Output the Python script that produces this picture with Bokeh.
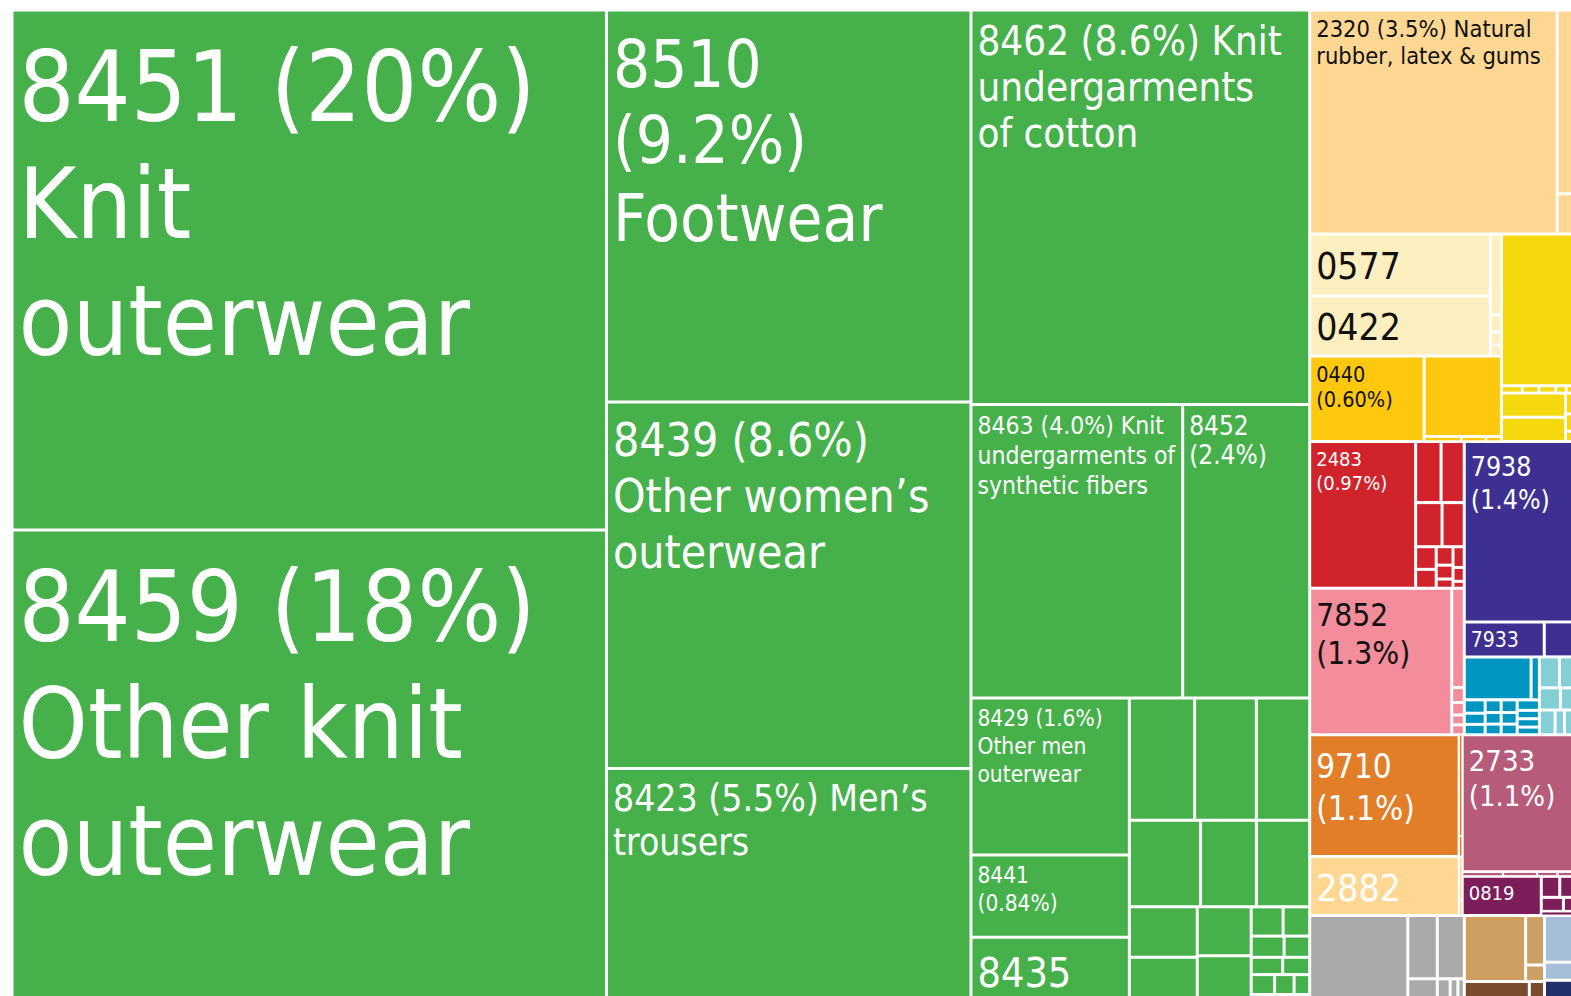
from bokeh.plotting import figure
from bokeh.models import ColumnDataSource, Range1d
from bokeh.embed import file_html
from bokeh.resources import INLINE
from bokeh.core.properties import value, field

# ---- data ----------------------------------------------------------------
# share of exports (%) of the labelled products (area estimates)
shares = {
    "8451": 19.9, "8459": 18.1, "8510": 9.2, "8439": 8.6, "8423": 5.5,
    "8462": 8.6, "8463": 4.0, "8452": 2.4, "8429": 1.6, "8441": 0.84, "8435": 0.67,
    "2320": 3.57, "0577": 0.72, "0422": 0.70, "0440": 0.63, "2483": 1.0,
    "7938": 1.28, "7933": 0.18, "7852": 1.34, "9710": 1.17, "2882": 0.57,
    "2733": 0.99, "0819": 0.20,
}

label_lines = {
    "8451": ["8451 (20%)", "Knit", "outerwear"],
    "8459": ["8459 (18%)", "Other knit", "outerwear"],
    "8510": ["8510", "(9.2%)", "Footwear"],
    "8439": ["8439 (8.6%)", "Other women\u2019s", "outerwear"],
    "8423": ["8423 (5.5%) Men\u2019s", "trousers"],
    "8462": ["8462 (8.6%) Knit", "undergarments", "of cotton"],
    "8463": ["8463 (4.0%) Knit", "undergarments of", "synthetic fibers"],
    "8452": ["8452", "(2.4%)"],
    "8429": ["8429 (1.6%)", "Other men", "outerwear"],
    "8441": ["8441", "(0.84%)"],
    "8435": ["8435"],
    "2320": ["2320 (3.5%) Natural", "rubber, latex & gums"],
    "0577": ["0577"],
    "0422": ["0422"],
    "0440": ["0440", "(0.60%)"],
    "2483": ["2483", "(0.97%)"],
    "7938": ["7938", "(1.4%)"],
    "7933": ["7933"],
    "7852": ["7852", "(1.3%)"],
    "9710": ["9710", "(1.1%)"],
    "2733": ["2733", "(1.1%)"],
    "2882": ["2882"],
    "0819": ["0819"],
}

# label style: font size (px) and line step (px)
label_size = {
    "8451": 98, "8459": 98, "8510": 65, "8439": 46, "8423": 37, "8462": 40,
    "8463": 24.5, "8452": 26, "8429": 22.5, "8441": 22.5, "8435": 41, "2320": 23.5,
    "0577": 37, "0422": 37, "0440": 21.5, "2483": 20, "7938": 26.5, "7933": 21,
    "7852": 31.5, "9710": 33, "2733": 29, "2882": 37, "0819": 20,
}
label_step = {
    "8451": 117, "8459": 117, "8510": 78, "8439": 56, "8423": 44, "8462": 46,
    "8463": 30, "8452": 30, "8429": 28, "8441": 28, "8435": 50, "2320": 27,
    "0577": 45, "0422": 45, "0440": 25.5, "2483": 24, "7938": 34, "7933": 24,
    "7852": 38, "9710": 43, "2733": 36, "2882": 45, "0819": 24,
}

dark_text = ["2320", "0577", "0422", "0440", "7852"]

sector_colors = {
    "tex": "#46B14B", "veg": "#FED793", "cream": "#FEEFC0", "gold": "#FDC80E",
    "yellow": "#F5D80E", "red": "#D1232B", "pink": "#F38C9B", "purple": "#3D3091",
    "teal": "#0096C1", "lteal": "#84CFD6", "orange": "#E27E27", "mauve": "#B65C7A",
    "plum": "#7B1E5A", "gray": "#A9AAA9", "tan": "#CD9F61", "brown": "#7A4B2C",
    "lblue": "#A6BED9", "navy": "#22306B",
}

# small unlabelled products (shares in %), grouped as in the picture
small_green = ["v", None, [
    ["h", None, [0.514, 0.486, 0.42]],
    ["h", None, [0.397, 0.311, 0.297]],
    ["h", None, [
        ["v", None, [0.22, 0.20]],
        ["v", None, [0.17, 0.164]],
        ["v", None, [["h", None, [0.06, 0.05]], ["h", None, [0.045, 0.035]],
                     ["h", None, [0.035, 0.03]], ["h", None, [0.03, 0.025, 0.02]],
                     ["h", None, [0.015, 0.01, 0.007]]]],
    ]],
]]

textiles = ["h", "tex", [
    ["v", None, ["8451", "8459"]],
    ["v", None, ["8510", "8439", "8423"]],
    ["v", None, [
        "8462",
        ["h", None, ["8463", "8452"]],
        ["h", None, [["v", None, ["8429", "8441", "8435"]], small_green]],
    ]],
]]

band_rubber = ["h", "veg", ["2320", ["v", None, [0.205, 0.045]]]]

band_food = ["h", None, [
    ["v", None, [
        ["h", "cream", [["v", None, ["0577", "0422"]],
                        ["v", None, [0.057, 0.012, 0.009, 0.008]]]],
        ["h", "gold", ["0440", ["v", None, [0.40, ["h", None, [0.012, 0.008, 0.005]]]]]],
    ]],
    ["v", "yellow", [0.713,
                     ["h", None, [0.01, 0.008, 0.008, 0.005, 0.004]],
                     ["h", None, [["v", None, [0.1, 0.1]], ["v", None, [0.012, 0.01, 0.006]]]]]],
]]

band_mixed = ["h", None, [
    ["v", None, [
        ["h", "red", ["2483", ["v", None, [
            ["h", None, [0.10, 0.091]],
            ["h", None, [0.075, 0.063]],
            ["h", None, [["v", None, [0.03, 0.025]], ["v", None, [0.02, 0.015, 0.01]],
                         ["v", None, [0.015, 0.01, 0.005]]]]]]]],
        ["h", "pink", ["7852", ["v", None, [0.08, 0.012, 0.01, 0.008, 0.008]]]],
    ]],
    ["v", None, [
        ["v", "purple", ["7938", ["h", None, ["7933", 0.068]]]],
        ["h", None, [
            ["v", "teal", [["h", None, [0.185, 0.023]],
                           ["h", None, [["v", None, [0.018, 0.015, 0.014]],
                                        ["v", None, [0.013, 0.012, 0.011]],
                                        ["v", None, [0.013, 0.012, 0.011]],
                                        ["v", None, [0.015, 0.012, 0.012, 0.011]]]]]],
            ["v", "lteal", [["h", None, [0.04, 0.03]], ["h", None, [0.03, 0.02]],
                            ["h", None, [0.025, 0.015, 0.016]]]],
        ]],
    ]],
]]

band_gold = ["h", None, [
    ["v", None, [
        ["h", "orange", ["9710", ["v", None, [0.02, 0.004]]]],
        ["h", "veg", ["2882", ["v", None, [0.008, 0.003]]]],
    ]],
    ["v", "mauve", ["2733", ["h", None, [0.012, 0.01, 0.006, 0.005]],
                    ["h", "plum", ["0819", ["v", None, [["h", None, [0.025, 0.02]],
                                                        ["h", None, [0.02, 0.01]], 0.009]]]]]],
]]

band_rest = ["h", None, [
    ["h", "gray", [0.552, ["v", None, [0.12, 0.046]],
                   ["v", None, [0.11, ["h", None, [0.02, 0.012, 0.01]]]]]],
    ["v", None, [["h", "tan", [0.26, ["v", None, [0.06, 0.02]]]],
                 ["h", "brown", [0.09, 0.021]]]],
    ["v", "lblue", [0.09, 0.035, ["v", "navy", [0.044]]]],
]]

tree = ["h", None, [textiles,
                    ["v", None, [band_rubber, band_food, band_mixed, band_gold, band_rest]]]]

# ---- treemap layout ---------------------------------------------------------
def val(n):
    if isinstance(n, str):
        return shares[n]
    if isinstance(n, (int, float)):
        return float(n)
    return sum(val(k) for k in n[2])


leaves = []


def layout(n, x0, y0, x1, y1, color):
    if isinstance(n, (str, int, float)):
        leaves.append((x0, y0, x1, y1, color, n if isinstance(n, str) else None))
        return
    d, c, kids = n
    color = c or color
    tot = sum(val(k) for k in kids)
    pos = x0 if d == "h" else y0
    span = (x1 - x0) if d == "h" else (y1 - y0)
    for k in kids:
        s = span * val(k) / tot
        if d == "h":
            layout(k, pos, y0, pos + s, y1, color)
        else:
            layout(k, x0, pos, x1, pos + s, color)
        pos += s


FX0, FY0, FX1, FY1 = 11.5, 9.5, 1574.0, 1002.5
layout(tree, FX0, FY0, FX1, FY1, None)

GAP = 1.5
BASE_SHIFT = 0.42   # em, compensates the renderer's baseline placement
L, R, T, B, C = [], [], [], [], []
tx, ty, tt, ts, tc = [], [], [], [], []
for (x0, y0, x1, y1, color, key) in leaves:
    g = min(GAP, (x1 - x0) * 0.25, (y1 - y0) * 0.25)
    L.append(x0 + g); R.append(x1 - g); T.append(y0 + g); B.append(y1 - g)
    C.append(sector_colors[color])
    if key in label_lines:
        fs = label_size[key]
        st = label_step[key]
        for i, line in enumerate(label_lines[key]):
            tx.append(x0 + g + 5)
            ty.append(y0 + g + st * (i + 1) - BASE_SHIFT * fs)
            tt.append(line)
            ts.append(f"{fs}px")
            tc.append("#111111" if key in dark_text else "#FFFFFF")

W, H = 1571, 996
p = figure(width=W, height=H, x_range=Range1d(0, W), y_range=Range1d(H, 0),
           output_backend="svg", toolbar_location=None, min_border=0)
p.axis.visible = False
p.grid.visible = False
p.outline_line_color = None
p.background_fill_color = "white"
p.border_fill_color = "white"

rects = ColumnDataSource(dict(left=L, right=R, top=T, bottom=B, color=C))
p.quad(left="left", right="right", top="top", bottom="bottom", fill_color="color",
       line_color=None, source=rects)

texts = ColumnDataSource(dict(x=tx, y=ty, text=tt, size=ts, color=tc))
p.text(x="x", y="y", text="text", text_font_size=field("size"), text_color="color",
       text_font=value("'DejaVu Sans Condensed', 'Liberation Sans Narrow', sans-serif"),
       text_align="left", text_baseline="alphabetic", source=texts)

open("out.html", "w").write(file_html(p, INLINE))
